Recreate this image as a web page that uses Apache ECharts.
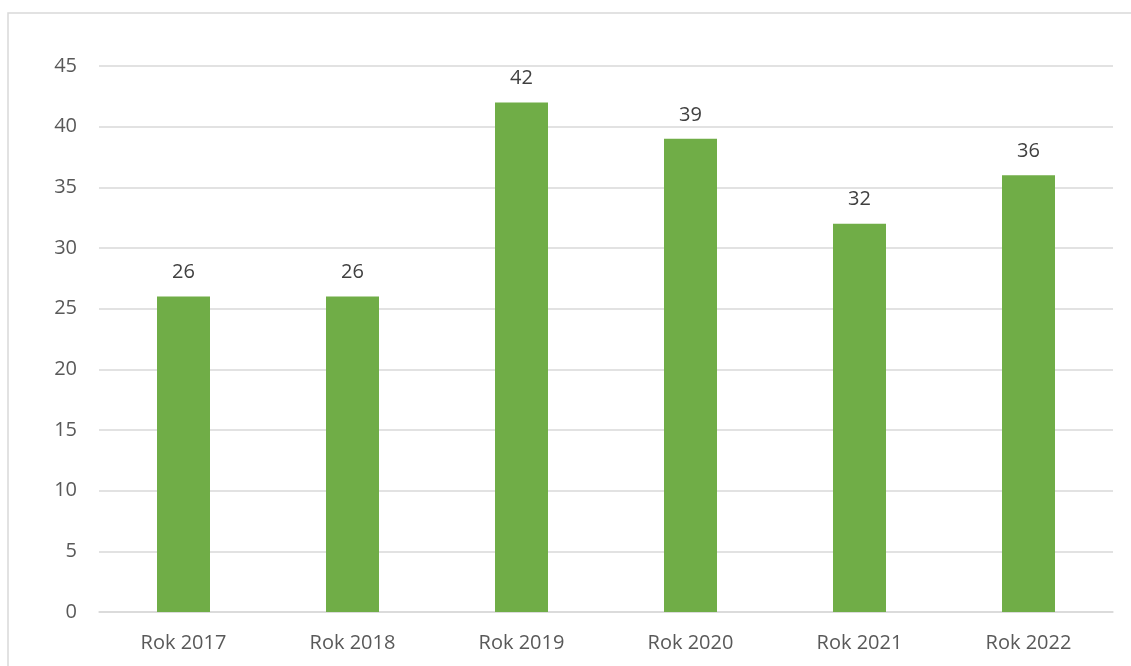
<!DOCTYPE html>
<html><head><meta charset="utf-8">
<script src="https://cdn.jsdelivr.net/npm/echarts@6/dist/echarts.min.js"></script>
<style>html,body{margin:0;padding:0;background:#fff}#c{width:1131px;height:666px}</style>
</head><body><div id="c"></div>
<script>
var categories = ["Rok 2017","Rok 2018","Rok 2019","Rok 2020","Rok 2021","Rok 2022"];
var values = [26,26,42,39,32,36];
var chart = echarts.init(document.getElementById('c'));
var font = "'Open Sans', 'Noto Sans', sans-serif";
chart.setOption({
  animation:false,
  graphic:[{type:'rect',shape:{x:8,y:13,width:1140,height:680},style:{fill:'none',stroke:'#d9d9d9',lineWidth:1.5},silent:true,z:-1}],
  grid:{left:99,right:18,top:66,bottom:54},
  xAxis:{type:'category',data:categories,
    axisLine:{lineStyle:{color:'#d9d9d9',width:1.5}},axisTick:{show:false},
    axisLabel:{color:'#595959',fontSize:20,fontFamily:font,margin:21}},
  yAxis:{type:'value',min:0,max:45,interval:5,
    axisLine:{show:false},axisTick:{show:false},
    splitLine:{lineStyle:{color:'#d9d9d9',width:1.5}},
    axisLabel:{color:'#595959',fontSize:20,fontFamily:font,margin:22}},
  series:[{type:'bar',data:values,barWidth:53,itemStyle:{color:'#70ad47'},
    label:{show:true,position:'top',distance:14,color:'#404040',fontSize:20,fontFamily:font}}]
});
</script></body></html>
